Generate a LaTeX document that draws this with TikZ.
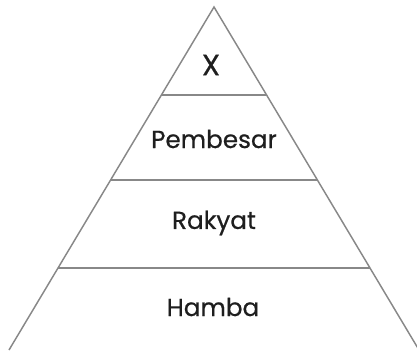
\documentclass[tikz,border=0pt]{standalone}
\usepackage{fontspec}
\setmainfont{Poppins}[FakeBold=0.6]
\usetikzlibrary{calc}
\definecolor{edgegray}{RGB}{136,136,136}
\definecolor{textgray}{RGB}{30,30,30}
\tikzset{
  layer/.style={draw=edgegray, line width=1.1pt},
  label/.style={inner sep=0.75pt, font=\fontsize{18.5}{22}\selectfont, text=textgray}
}
\begin{document}
\begin{tikzpicture}[x=0.75pt,y=0.75pt,yscale=-1,xscale=1]
\useasboundingbox (0,0) rectangle (417,350);

%Shape: Triangle sides
\coordinate (apex) at (214,7);
\coordinate (bl) at (9,350);
\coordinate (br) at (419,350);
\draw [layer] (bl) -- (apex) -- (br);

%Straight Lines: layer borders
\draw [layer] ($(apex)!0.2566!(bl)$) -- ($(apex)!0.2566!(br)$);
\draw [layer] ($(apex)!0.5044!(bl)$) -- ($(apex)!0.5044!(br)$);
\draw [layer] ($(apex)!0.7610!(bl)$) -- ($(apex)!0.7610!(br)$);

% Text Node
\node [label, font=\fontsize{22}{26}\selectfont] (top) at (211,65) {X};
% Text Node
\node [label] (pembesar) at (214,139) {Pembesar};
% Text Node
\node [label] (rakyat) at (214,223) {Rakyat};
% Text Node
\node [label] (hamba) at (213,307) {Hamba};

\end{tikzpicture}
\end{document}
